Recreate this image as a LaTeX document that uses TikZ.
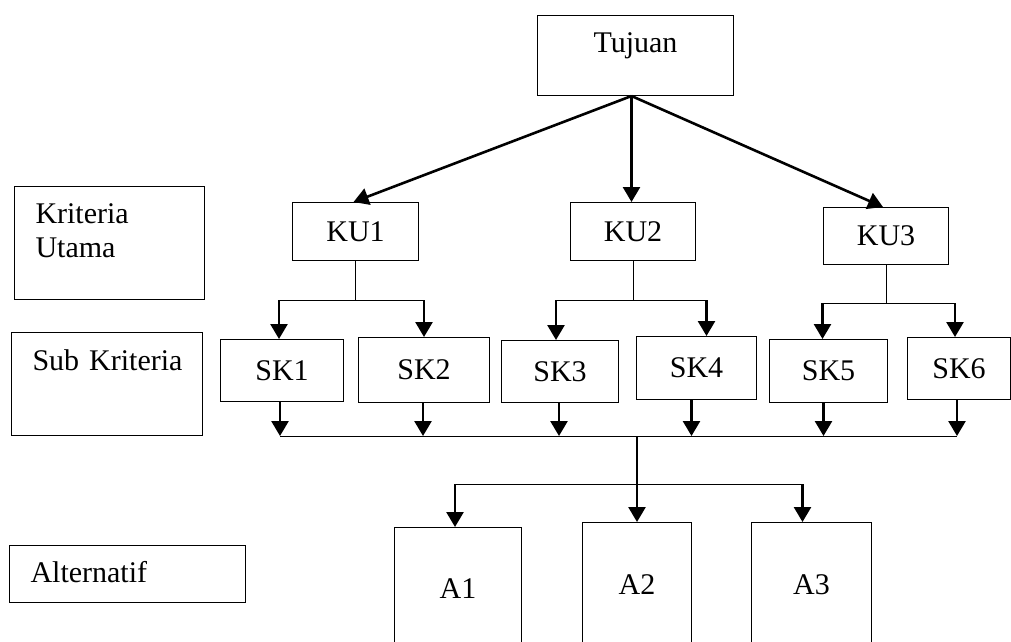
\documentclass[tikz,border=0pt]{standalone}
\usepackage{fontspec}
\setmainfont{Liberation Serif}
\usetikzlibrary{arrows.meta}

\tikzset{
  box/.style={draw, line width=1pt, inner sep=0pt, anchor=north west,
    font=\fontsize{30}{34}\selectfont},
  lbox/.style={box, align=left, inner xsep=21pt},
  abox/.style={box, text height=72pt, text depth=50pt},
  arr/.style={-{Triangle[length=15pt,width=17pt]}, line width=2.6pt},
  link/.style={line width=1pt}
}

\begin{document}
\begin{tikzpicture}[x=1pt,y=-1pt]
\clip (0,0) rectangle (1011,641);
% level labels
\node[lbox, text width=148pt, text height=37pt, text depth=76pt] (lkriteria) at (14,186)
  {\begin{tabular}[t]{@{}l@{}}Kriteria\\Utama\end{tabular}};
\node[lbox, text width=149pt, text height=38pt, text depth=65pt] (lsub) at (11,332) {\mbox{Sub Kriteria}};
\node[lbox, text width=194pt, text height=37pt, text depth=20pt] (lalt) at (9,545) {Alternatif};

% goal
\node[box, minimum width=196pt, text height=37pt, text depth=43pt] (tujuan) at (537,15) {Tujuan};

% main criteria
\node[box, minimum width=126pt, minimum height=58pt] (ku1) at (292,202) {KU1};
\node[box, minimum width=125pt, minimum height=58pt] (ku2) at (570,202) {KU2};
\node[box, minimum width=125pt, minimum height=57pt] (ku3) at (823,207) {KU3};

% sub criteria
\node[box, minimum width=123pt, minimum height=62pt] (sk1) at (220,339) {SK1};
\node[box, minimum width=131pt, minimum height=65pt] (sk2) at (358,337) {SK2};
\node[box, minimum width=117pt, minimum height=62pt] (sk3) at (501,340) {SK3};
\node[box, minimum width=120pt, minimum height=63pt] (sk4) at (636,336) {SK4};
\node[box, minimum width=118pt, minimum height=63pt] (sk5) at (769,339) {SK5};
\node[box, minimum width=103pt, minimum height=62pt] (sk6) at (907,337) {SK6};

% alternatives
\node[abox, minimum width=127pt, text height=71pt] (a1) at (394,527) {A1};
\node[abox, minimum width=109pt] (a2) at (582,522) {A2};
\node[abox, minimum width=120pt] (a3) at (751,522) {A3};

% goal -> main criteria
\coordinate (g) at ([xshift=-4pt]tujuan.south);
\draw[arr] (g) -- ([xshift=-2pt]ku1.north);
\draw[arr] (g) -- (g |- ku2.north);
\draw[arr] (g) -- ([xshift=-3pt]ku3.north);

% main criteria -> sub criteria
\draw[link] (ku1.south) -- ++(0,39) coordinate (b1);
\draw[link] ([xshift=-2pt]sk1.north |- b1) -- (sk2.north |- b1);
\draw[arr] ([xshift=-3pt]sk1.north |- b1) -- ([xshift=-3pt]sk1.north);
\draw[arr] (sk2.north |- b1) -- (sk2.north);

\draw[link] (ku2.south) -- ++(0,39) coordinate (b2);
\draw[link] ([xshift=-4pt]sk3.north |- b2) -- ([xshift=10pt]sk4.north |- b2);
\draw[arr] ([xshift=-4pt]sk3.north |- b2) -- ([xshift=-4pt]sk3.north);
\draw[arr] ([xshift=10pt]sk4.north |- b2) -- ([xshift=10pt]sk4.north);

\draw[link] (ku3.south) -- ++(0,38) coordinate (b3);
\draw[link] ([xshift=-6pt]sk5.north |- b3) -- ([xshift=-4pt]sk6.north |- b3);
\draw[arr] ([xshift=-6pt]sk5.north |- b3) -- ([xshift=-6pt]sk5.north);
\draw[arr] ([xshift=-4pt]sk6.north |- b3) -- ([xshift=-4pt]sk6.north);

% sub criteria -> collector line
\coordinate (c) at (0,436);
\draw[link] ([xshift=-2pt]sk1.south |- c) -- ([xshift=-2pt]sk6.south |- c);
\draw[arr] ([xshift=-2pt]sk1.south) -- ([xshift=-2pt]sk1.south |- c);
\draw[arr] ([xshift=-1pt]sk2.south) -- ([xshift=-1pt]sk2.south |- c);
\draw[arr] ([xshift=-1pt]sk3.south) -- ([xshift=-1pt]sk3.south |- c);
\draw[arr] ([xshift=-5pt]sk4.south) -- ([xshift=-5pt]sk4.south |- c);
\draw[arr] ([xshift=-5pt]sk5.south) -- ([xshift=-5pt]sk5.south |- c);
\draw[arr] ([xshift=-2pt]sk6.south) -- ([xshift=-2pt]sk6.south |- c);

% collector -> alternatives
\draw[arr] (a2.north |- c) -- (a2.north);
\draw[link] ([xshift=-3pt]a1.north |- 0,484) coordinate (d1) -- ([xshift=-9pt]a3.north |- 0,484) coordinate (d3);
\draw[arr] (d1) -- (d1 |- a1.north);
\draw[arr] (d3) -- (d3 |- a3.north);
\end{tikzpicture}
\end{document}
